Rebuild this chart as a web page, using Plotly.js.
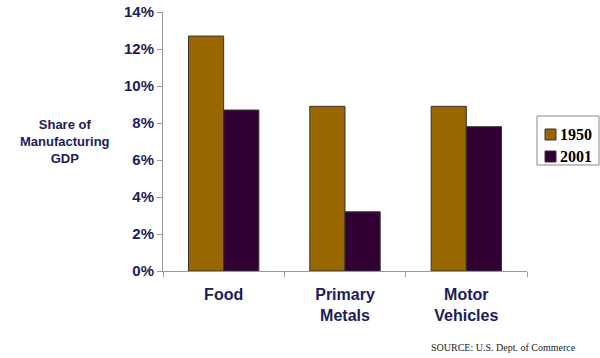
<!DOCTYPE html>
<html><head><meta charset="utf-8">
<script src="https://cdn.plot.ly/plotly-3.0.1.min.js"></script>
<style>html,body{margin:0;padding:0;background:#fff}#chart{width:600px;height:358px}</style>
</head><body><div id="chart"></div>
<script>
const categories = ["Food", "Primary<br>Metals", "Motor<br>Vehicles"];
const series1950 = [0.127, 0.089, 0.089];
const series2001 = [0.087, 0.032, 0.078];
const seriesNames = ["1950", "2001"];
const seriesColors = ["#996600", "#330033"];
const yTicks = [0, 0.02, 0.04, 0.06, 0.08, 0.10, 0.12, 0.14];

const navy = "#1c1c5a";
const sans = "Liberation Sans, Arial, sans-serif";
const serif = "Liberation Serif, Times New Roman, serif";

const traces = [
  {type: "bar", name: seriesNames[0], x: categories, y: series1950,
   marker: {color: seriesColors[0], line: {color: "#333333", width: 1}}},
  {type: "bar", name: seriesNames[1], x: categories, y: series2001,
   marker: {color: seriesColors[1], line: {color: "#333333", width: 1}}}
];

// Custom legend (box, swatches, labels) in paper coordinates
const legendShapes = [
  {type: "rect", xref: "paper", yref: "paper", x0: 1.0275, x1: 1.1978, y0: 0.4093, y1: 0.5985,
   line: {color: "#888", width: 1}, fillcolor: "#fff", layer: "above"},
  {type: "rect", xref: "paper", yref: "paper", x0: 1.0495, x1: 1.0797, y0: 0.5058, y1: 0.5483,
   line: {color: "#333", width: 1}, fillcolor: seriesColors[0], layer: "above"},
  {type: "rect", xref: "paper", yref: "paper", x0: 1.0495, x1: 1.0797, y0: 0.4208, y1: 0.4633,
   line: {color: "#333", width: 1}, fillcolor: seriesColors[1], layer: "above"}
];
const legendLabels = seriesNames.map((n, i) => ({
  text: n, xref: "paper", yref: "paper", x: 1.0852, y: [0.527, 0.442][i],
  xanchor: "left", yanchor: "middle", showarrow: false,
  font: {family: serif, size: 16, color: "#000", weight: "bold"}
}));

const layout = {
  width: 600, height: 358,
  margin: {l: 163, r: 73, t: 12, b: 87},
  paper_bgcolor: "#fff", plot_bgcolor: "#fff",
  barmode: "group", bargap: 0.42, bargroupgap: 0,
  showlegend: false,
  xaxis: {type: "category", showline: true, linecolor: "#999", linewidth: 1,
          ticks: "outside", tickson: "boundaries", ticklen: 5, tickcolor: "#999",
          tickfont: {family: sans, size: 16, color: navy, weight: "bold"},
          showgrid: false, zeroline: false, ticklabelstandoff: 9},
  yaxis: {range: [0, 0.14], tickvals: yTicks, tickformat: ".0%",
          showline: true, linecolor: "#999", linewidth: 1,
          ticks: "outside", ticklen: 5, tickcolor: "#999",
          tickfont: {family: sans, size: 15, color: navy, weight: "bold"},
          showgrid: false, zeroline: false},
  shapes: legendShapes,
  annotations: [
    {text: "Share of<br>Manufacturing<br>GDP", xref: "paper", yref: "paper",
     x: -0.27, y: 0.5, xanchor: "center", yanchor: "middle", showarrow: false,
     font: {family: sans, size: 13, color: navy, weight: "bold"}},
    {text: "SOURCE: U.S. Dept. of Commerce", xref: "paper", yref: "paper",
     x: 1.14, y: -0.296, xanchor: "right", yanchor: "middle", showarrow: false,
     font: {family: serif, size: 10, color: "#222"}}
  ].concat(legendLabels)
};

Plotly.newPlot("chart", traces, layout, {displayModeBar: false, staticPlot: true});
</script></body></html>
